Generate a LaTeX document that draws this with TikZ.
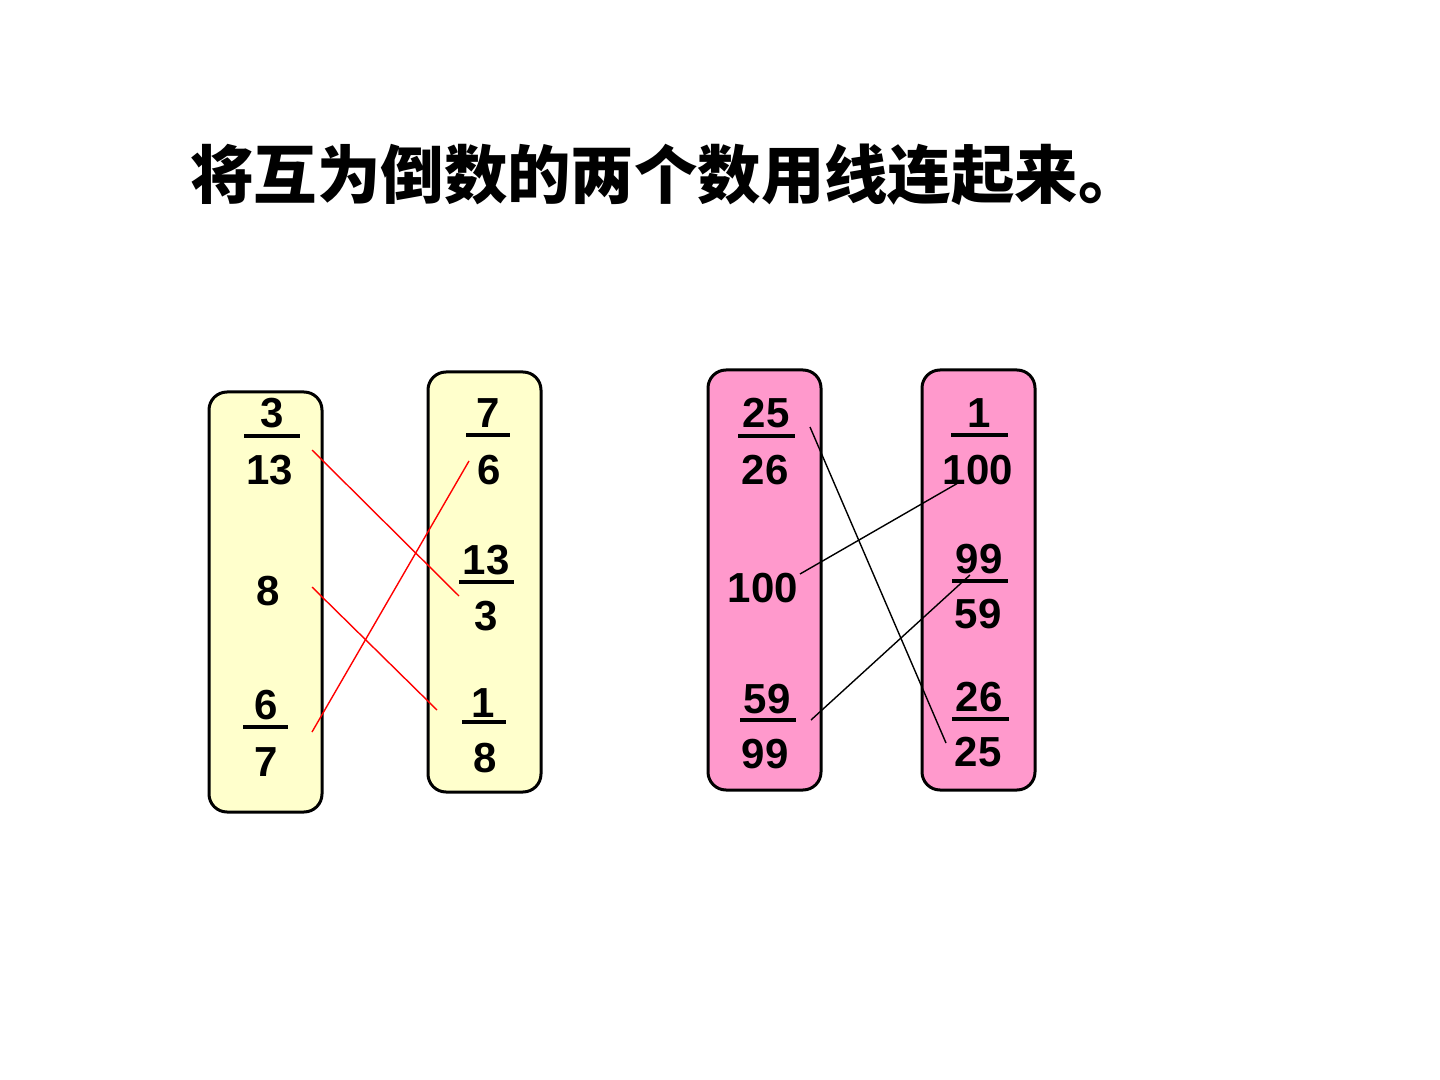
\documentclass[tikz,border=0pt]{standalone}
\usepackage{fontspec}
\setmainfont{Liberation Sans}
\newfontfamily\cjk{Noto Sans CJK SC}
\definecolor{ylw}{HTML}{FFFFCC}
\definecolor{pnk}{HTML}{FF99CC}
\definecolor{redline}{HTML}{FF0000}
\begin{document}
\begin{tikzpicture}[x=0.5pt,y=-0.5pt,
  col/.style={draw=black,line width=1.5pt,rounded corners=9pt},
  num/.style={font=\fontsize{21}{21}\selectfont\bfseries,inner sep=0pt},
  bar/.style={line width=2pt},
  redlink/.style={draw=redline,line width=0.7pt},
  blklink/.style={draw=black,line width=0.7pt}]
\useasboundingbox[fill=white] (0,0) rectangle (1440,1080);
% title
\node[anchor=west,inner sep=0pt,font=\cjk\bfseries\fontsize{31.7}{31.7}\selectfont] (title) at (190,175) {将互为倒数的两个数用线连起来。};
% boxes
\path[col,fill=ylw] (209,392) rectangle (322,812);
\path[col,fill=ylw] (428,372) rectangle (541,792);
\path[col,fill=pnk] (708,370) rectangle (821,790);
\path[col,fill=pnk] (922,370) rectangle (1035,790);
% box 1
\node[num] (a1n) at (272,413) {3};
\draw[bar] (244,436) -- (300,436);
\node[num] (a1d) at (270,470) {13};
\node[num] (a2) at (268,591) {8};
\node[num] (a3n) at (266,705) {6};
\draw[bar] (243,727) -- (288,727);
\node[num] (a3d) at (266,762) {7};
% box 2
\node[num] (b1n) at (488,413) {7};
\draw[bar] (466,435) -- (510,435);
\node[num] (b1d) at (489,470) {6};
\node[num] (b2n) at (486,560) {13};
\draw[bar] (459,582) -- (514,582);
\node[num] (b2d) at (486,616) {3};
\node[num] (b3n) at (483,703) {1};
\draw[bar] (462,722) -- (506,722);
\node[num] (b3d) at (485,758) {8};
% box 3
\node[num] (c1n) at (766,413) {25};
\draw[bar] (738,436) -- (795,436);
\node[num] (c1d) at (765,470) {26};
\node[num] (c2) at (763,588) {100};
\node[num] (c3n) at (767,699) {59};
\draw[bar] (740,720) -- (796,720);
\node[num] (c3d) at (765,754) {99};
% box 4
\node[num] (d1n) at (979,413) {1};
\draw[bar] (951,435) -- (1008,435);
\node[num] (d1d) at (978,470) {100};
\node[num] (d2n) at (979,559) {99};
\draw[bar] (952,581) -- (1008,581);
\node[num] (d2d) at (978,614) {59};
\node[num] (d3n) at (979,697) {26};
\draw[bar] (952,719) -- (1009,719);
\node[num] (d3d) at (978,752) {25};
% connector ends
\coordinate (pa1) at (312,450);
\coordinate (pb2) at (459,596);
\coordinate (pa2) at (312,587);
\coordinate (pb3) at (437,710);
\coordinate (pa3) at (312,732);
\coordinate (pb1) at (469,461);
\coordinate (pc1) at (810,427);
\coordinate (pd3) at (946,743);
\coordinate (pc2) at (800,574);
\coordinate (pd1) at (958,483);
\coordinate (pc3) at (811,720);
\coordinate (pd2) at (970,575);
% connectors
\draw[redlink] (pa1) -- (pb2);
\draw[redlink] (pa2) -- (pb3);
\draw[redlink] (pa3) -- (pb1);
\draw[blklink] (pc1) -- (pd3);
\draw[blklink] (pc2) -- (pd1);
\draw[blklink] (pc3) -- (pd2);
\end{tikzpicture}
\end{document}
